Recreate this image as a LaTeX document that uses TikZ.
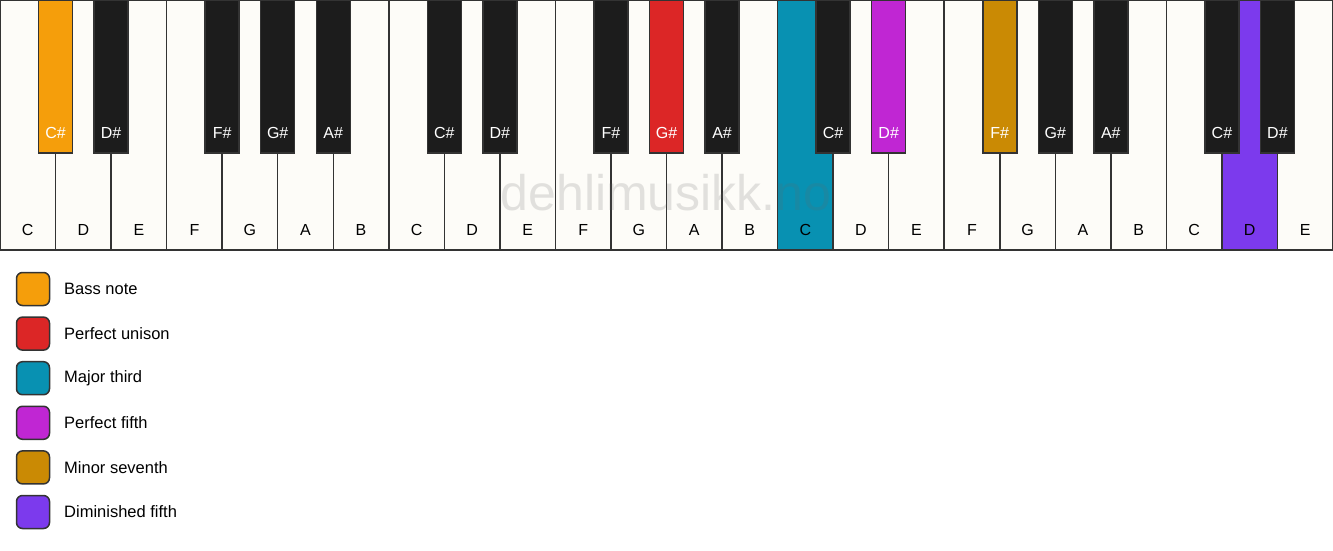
\documentclass[tikz,border=0pt]{standalone}
\usepackage{fontspec}
\setmainfont{Liberation Sans}
\definecolor{keywhite}{HTML}{FDFCF8}
\definecolor{keyblack}{HTML}{1C1C1C}
\definecolor{keyline}{HTML}{333333}
\definecolor{bassc}{HTML}{F59E0B}
\definecolor{unisonc}{HTML}{DC2626}
\definecolor{thirdc}{HTML}{0891B2}
\definecolor{fifthc}{HTML}{C026D3}
\definecolor{seventhc}{HTML}{CA8A04}
\definecolor{dimc}{HTML}{7C3AED}
\begin{document}
\begin{tikzpicture}[x=1pt,y=-1pt,
  keyrect/.style={draw=keyline,line width=1.5pt},
  wlabel/.style={text=black,font=\fontsize{16}{19}\selectfont,inner sep=0pt},
  blabel/.style={text=white,font=\fontsize{16}{19}\selectfont,inner sep=0pt},
  legbox/.style={draw=keyline,line width=1.5pt,rounded corners=6pt,minimum width=33pt,minimum height=33pt,inner sep=0pt},
  legtext/.style={anchor=west,font=\fontsize{16.5}{19}\selectfont,inner sep=0pt},
  watermark/.style={text=black!60,opacity=0.18,font=\fontsize{50}{50}\selectfont,inner sep=0pt}]
\useasboundingbox (0,0) rectangle (1333,550);
\fill[white] (0,0) rectangle (1333,550);
\def\w{55.5417}
% white keys
\foreach \n/\c [count=\i from 0] in {C/keywhite,D/keywhite,E/keywhite,F/keywhite,G/keywhite,A/keywhite,B/keywhite,
  C/keywhite,D/keywhite,E/keywhite,F/keywhite,G/keywhite,A/keywhite,B/keywhite,
  C/thirdc,D/keywhite,E/keywhite,F/keywhite,G/keywhite,A/keywhite,B/keywhite,
  C/keywhite,D/dimc,E/keywhite}{
  \path[keyrect,fill=\c] (\i*\w,0) rectangle ++(\w,250);
  \node[wlabel] (w\i) at (\i*\w+\w/2,230) {\n};
}
% watermark
\node[watermark] (wm) at (666,193) {dehlimusikk.no};
% black keys
\foreach \b/\n/\c in {0/C\#/bassc,1/D\#/keyblack,3/F\#/keyblack,4/G\#/keyblack,5/A\#/keyblack,
  7/C\#/keyblack,8/D\#/keyblack,10/F\#/keyblack,11/G\#/unisonc,12/A\#/keyblack,
  14/C\#/keyblack,15/D\#/fifthc,17/F\#/seventhc,18/G\#/keyblack,19/A\#/keyblack,
  21/C\#/keyblack,22/D\#/keyblack}{
  \path[keyrect,fill=\c] ({(\b+1)*\w-17},0) rectangle ++(34,153);
  \node[blabel] (b\b) at ({(\b+1)*\w},133) {\n};
}
% legend
\foreach \c/\t [count=\k from 0] in {bassc/Bass note,unisonc/Perfect unison,thirdc/Major third,
  fifthc/Perfect fifth,seventhc/Minor seventh,dimc/Diminished fifth}{
  \node[legbox,fill=\c] (lb\k) at (33,289+\k*44.6) {};
  \node[legtext] (lt\k) at (64,289+\k*44.6) {\t};
}
\end{tikzpicture}
\end{document}
